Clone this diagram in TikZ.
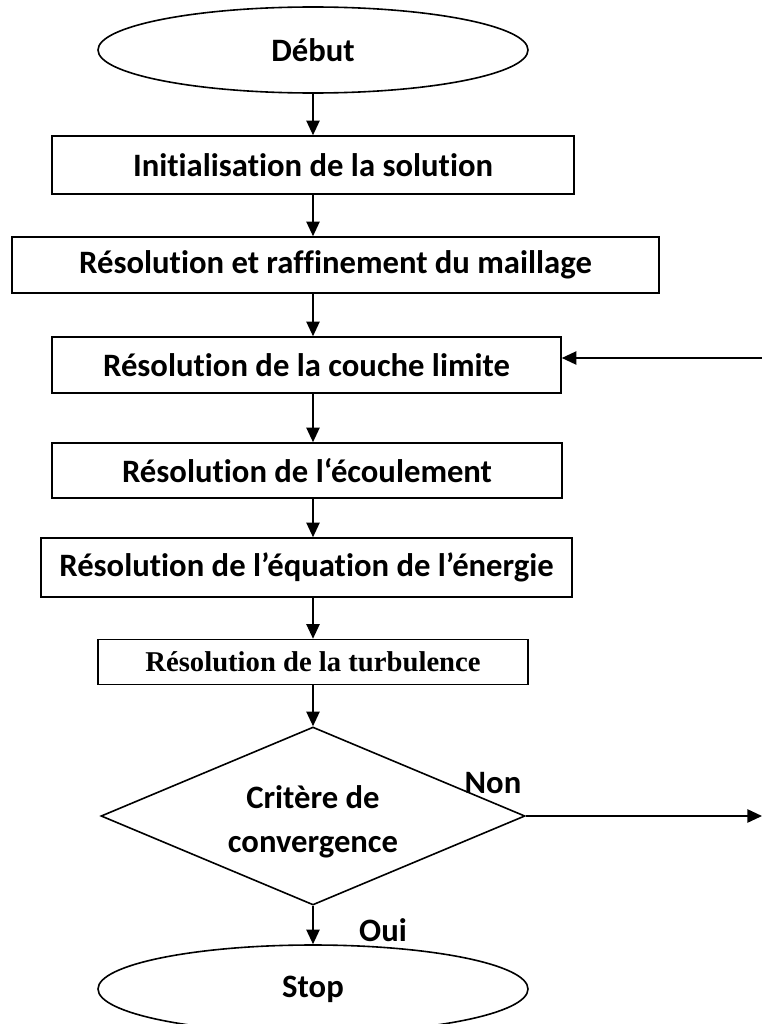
\documentclass[tikz,border=0pt]{standalone}
\usepackage{fontspec}
\setmainfont{Carlito}[Ligatures=NoCommon]
\newfontfamily\serifbf{Liberation Serif}
\usetikzlibrary{shapes.geometric,arrows.meta}

\begin{document}
\begin{tikzpicture}[
		x=0.75pt, y=-0.75pt,
		line width=1.2pt,
		every node/.style={draw, inner sep=0pt, font=\bfseries\fontsize{24.5}{33}\selectfont},
		etape/.style={rectangle, minimum height=42pt},
		terminal/.style={ellipse, minimum width=322.5pt, minimum height=64.5pt},
		fleche/.style={-{Triangle[length=11pt, width=10pt]}},
		texte/.style={draw=none}
	]
  \useasboundingbox (0,0) rectangle (762,1024);
  \node (debut) [terminal] at (313, 50) {Début};
  \node (init) [etape, minimum width=391.5pt, minimum height=43.5pt] at (313, 165) {Initialisation de la solution};
  \node (maillage) [etape, minimum width=485.25pt] at (335.5, 265) {Résolution et raffinement du maillage};
  \node (couche) [etape, minimum width=381.75pt] at (306.5, 365) {Résolution de la couche limite};
  \node (ecoul) [etape, minimum width=382.5pt, minimum height=41.25pt] at (307, 470.5) {Résolution de l‘écoulement};
  \node (energie) [etape, minimum width=398.25pt, minimum height=44.25pt] at (306.5, 567.5) {Résolution de l’équation de l’énergie};
  \node (turb) [etape, minimum width=322.5pt, minimum height=33.75pt, font=\serifbf\bfseries\fontsize{21.5}{24}\selectfont] at (313, 662) {Résolution de la turbulence};
  \node (crit) [diamond, aspect=2.4, align=center, text height=59.5pt, minimum width=318pt, minimum height=133.5pt] at (313, 816) {Critère de\\convergence};
  \node (stop) [terminal, minimum height=66pt] at (313, 989) {Stop};
  \node (non) [texte] at (493, 783) {Non};
  \node (oui) [texte] at (383, 930) {Oui};
  \coordinate (retour) at (762, 358);
  \coordinate (sortie) at (762, 816);
  \draw[fleche] (debut) -- (init);
  \draw[fleche] (debut |- init.south) -- (debut |- maillage.north);
  \draw[fleche] (debut |- maillage.south) -- (debut |- couche.north);
  \draw[fleche] (debut |- couche.south) -- (debut |- ecoul.north);
  \draw[fleche] (debut |- ecoul.south) -- (debut |- energie.north);
  \draw[fleche] (debut |- energie.south) -- (debut |- turb.north);
  \draw[fleche] (debut |- turb.south) -- (crit.north);
  \draw[fleche] (crit.south) -- (stop.north);
  \draw[fleche] (crit.east) -- (sortie);
  \draw[fleche] (retour) -- (retour -| couche.east);
\end{tikzpicture}
\end{document}
